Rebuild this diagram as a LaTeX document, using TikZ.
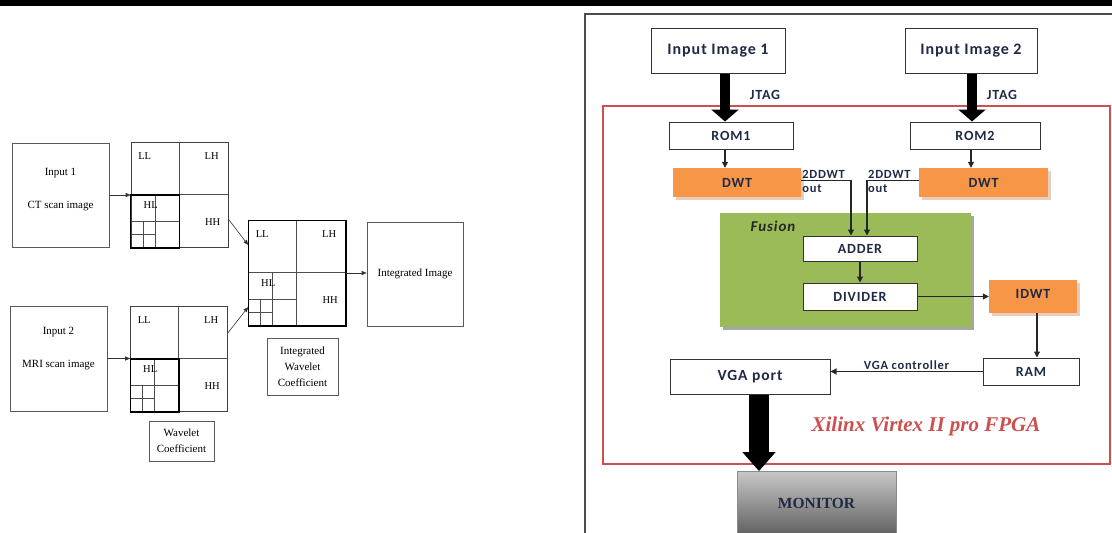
\documentclass[tikz,border=0pt]{standalone}
\usepackage{fontspec}
\setmainfont{Liberation Serif}
\newfontfamily\carlito[LetterSpace=6]{Carlito}
\usepackage{xcolor}
\usepackage{tikz}
\usetikzlibrary{arrows.meta,positioning,calc,shadows}
\definecolor{fpgared}{HTML}{CC5050}
\definecolor{dwtorange}{HTML}{F79646}
\definecolor{dwtshade}{HTML}{E8CDBE}
\definecolor{fusgreen}{HTML}{9BBB59}
\definecolor{fpgaink}{HTML}{1F2A44}

\begin{document}
\begin{tikzpicture}[
    x=1pt,y=-1pt,
    ent/.style    = {rectangle,draw=black!65,line width=0.6pt,fill=white,inner sep=0pt},
    grille/.style = {rectangle,draw=black!75,line width=0.6pt,minimum width=97pt,
                     minimum height=105pt,inner sep=0pt},
    coef/.style   = {font=\fontsize{10.5}{12}\selectfont,inner sep=0pt},
    txt/.style    = {align=center,font=\fontsize{11}{16}\selectfont,inner sep=0pt},
    fl/.style     = {-{Triangle[length=5pt,width=4pt]},line width=0.6pt,black!80},
    bloc/.style   = {rectangle,draw=black!80,line width=1pt,fill=white,inner sep=0pt,
                     font=\carlito\bfseries\fontsize{14}{16}\selectfont,text=fpgaink},
    dwt/.style    = {rectangle,fill=dwtorange,inner sep=0pt,
                     font=\carlito\bfseries\fontsize{14}{16}\selectfont,text=fpgaink,
                     drop shadow={shadow xshift=2.5pt,shadow yshift=-2.5pt,fill=dwtshade,opacity=1}},
    flh/.style    = {-{Triangle[length=6pt,width=6pt]},line width=1.1pt,black!85},
    gros/.style   = {-{Triangle[length=12pt,width=27pt]},line width=10pt,black},
    lab/.style    = {font=\carlito\bfseries\fontsize{12.5}{14}\selectfont,text=fpgaink,inner sep=1pt},
  ]
  \useasboundingbox (0,0) rectangle (1112,533);
  \fill[black] (0,0) rectangle (1112,6);

  % left: wavelet fusion scheme
  \node[ent,minimum width=97pt,minimum height=104pt] (ct)  at (60.5,195)  {};
  \node[ent,minimum width=97pt,minimum height=105pt] (mri) at (58.5,358.5) {};
  \node[txt] (ctt)  at ([yshift=5.5pt]ct.center)  {Input 1\\[17pt]CT scan image};
  \node[txt] (mrit) at ([yshift=10pt]mri.center) {Input 2\\[17pt]MRI scan image};

  \foreach \nm/\cx/\cy in {g1/179.5/195, g2/179/359, gi/297/273}{
    \node[grille] (\nm) at (\cx,\cy) {};
    \begin{scope}[shift={(\nm.north west)}]
      \draw[black!70,line width=0.5pt] (48.5,0) -- (48.5,105) (0,52.5) -- (97,52.5)
        (0,78.75) -- (48.5,78.75) (24.25,52.5) -- (24.25,105)
        (0,91.9) -- (24.25,91.9) (12.1,78.75) -- (12.1,105);
    \end{scope}
    \node[coef] (\nm-ll) at ([shift={(14,14)}]\nm.north west) {LL};
    \node[coef] (\nm-lh) at ([shift={(81,14)}]\nm.north west) {LH};
    \node[coef] (\nm-hl) at ([shift={(20,63)}]\nm.north west) {HL};
    \node[coef] (\nm-hh) at ([shift={(82,80)}]\nm.north west) {HH};
  }
  \draw[line width=1.4pt] (g1.west) rectangle (g1.south);
  \draw[line width=1.4pt] (g2.west) rectangle (g2.south);
  \draw[line width=1.4pt] (gi.north west) rectangle (gi.south east);

  \node[ent,minimum width=96pt,minimum height=104pt,txt] (integ) at (415,274) {Integrated Image};
  \node[ent,minimum width=65pt,minimum height=40pt,txt]  (wc)  at (181.5,441) {Wavelet\\Coefficient};
  \node[ent,minimum width=71pt,minimum height=57pt,txt]  (iwc) at (302.5,366.5) {Integrated\\Wavelet\\Coefficient};

  \draw[fl] (ct.east)  -- (ct.east -| g1.west);
  \draw[fl] (mri.east) -- (mri.east -| g2.west);
  \draw[fl] ([yshift=-24pt]g1.east) -- ([yshift=28pt]gi.west);
  \draw[fl] ([yshift=26pt]g2.east)  -- ([yshift=-34pt]gi.west);
  \draw[fl] (gi.east) -- (gi.east -| integ.west);

  % right: FPGA architecture
  \draw[line width=2.5pt,black!70] (585,533) -- (585,14) -- (1112,14);
  \node[draw=fpgared,line width=1.8pt,minimum width=507pt,minimum height=358pt,inner sep=0pt] (fpga) at (856.5,285) {};
  \node[fill=fusgreen,minimum width=251pt,minimum height=114pt,inner sep=0pt,
        drop shadow={shadow xshift=3pt,shadow yshift=-3pt,fill=black!35,opacity=1}] (fusion) at (845.5,270) {};
  \node[font=\carlito\bfseries\itshape\fontsize{15}{17}\selectfont,text=black!85] (fust) at (773,226) {Fusion};

  \node[bloc,minimum width=134pt,minimum height=45pt,font=\carlito\bfseries\fontsize{16}{18}\selectfont] (in1) at (718,50.5) {Input Image 1};
  \node[bloc,minimum width=132pt,minimum height=45pt,font=\carlito\bfseries\fontsize{16}{18}\selectfont] (in2) at (971,50.5) {Input Image 2};
  \node[bloc,minimum width=124pt,minimum height=27pt] (rom1) at (731,135.5) {ROM1};
  \node[bloc,minimum width=130pt,minimum height=27pt] (rom2) at (975,135.5) {ROM2};
  \node[dwt,minimum width=128pt,minimum height=29pt] (dwt1) at (737,182.5) {DWT};
  \node[dwt,minimum width=129pt,minimum height=29pt] (dwt2) at (983.5,182.5) {DWT};
  \node[bloc,minimum width=114pt,minimum height=25pt] (adder)   at (860,248.5) {ADDER};
  \node[bloc,minimum width=114pt,minimum height=27pt] (divider) at (860,296.5) {DIVIDER};
  \node[dwt,minimum width=88pt,minimum height=33pt,text depth=6pt] (idwt) at (1033,296.5) {IDWT};
  \node[bloc,minimum width=96pt,minimum height=27pt] (ram) at (1031,371.5) {RAM};
  \node[bloc,minimum width=160pt,minimum height=35pt,font=\carlito\bfseries\fontsize{15.5}{17}\selectfont] (vga) at (750,376.5) {VGA port};
  \node[rectangle,draw=black!45,line width=0.8pt,minimum width=159pt,minimum height=63pt,inner sep=0pt,
        top color=black!22,bottom color=black!62,font=\bfseries\fontsize{15.5}{17}\selectfont,text=fpgaink] (monitor) at (816.5,503) {MONITOR};
  \node[font=\bfseries\itshape\fontsize{21}{23}\selectfont,text=fpgared] (xil) at (926,426) {Xilinx Virtex II pro FPGA};

  \draw[gros] ([xshift=7pt]in1.south) -- ([xshift=7pt]in1.south |- rom1.north);
  \draw[gros] ([xshift=1pt]in2.south) -- ([xshift=1pt]in2.south |- rom2.north);
  \node[lab,font=\carlito\bfseries\fontsize{14}{16}\selectfont] (jt1) at (765,95) {JTAG};
  \node[lab,font=\carlito\bfseries\fontsize{14}{16}\selectfont] (jt2) at (1002,95) {JTAG};

  \draw[flh] ([xshift=-6pt]rom1.south) -- ([xshift=-6pt]rom1.south |- dwt1.north);
  \draw[flh] ([xshift=-4pt]rom2.south) -- ([xshift=-4pt]rom2.south |- dwt2.north);

  \coordinate (k1) at ([xshift=-9pt,yshift=2pt]adder.north |- dwt1.east);
  \coordinate (k2) at ([xshift=7pt,yshift=2pt]adder.north |- dwt2.west);
  \draw[flh] ([yshift=2pt]dwt1.east) -- (k1) -- ([xshift=-9pt]adder.north);
  \draw[flh] ([yshift=2pt]dwt2.west) -- (k2) -- ([xshift=7pt]adder.north);
  \node[lab,anchor=south west,yshift=1pt]  (o1a) at ([yshift=2pt]dwt1.east) {2DDWT};
  \node[lab,anchor=north west,yshift=-3pt] (o1b) at ([yshift=2pt]dwt1.east) {out};
  \node[lab,anchor=south west,yshift=1pt]  (o2a) at (k2) {2DDWT};
  \node[lab,anchor=north west,yshift=-3pt] (o2b) at (k2) {out};

  \draw[flh] (adder) -- (divider);
  \draw[flh] (divider.east) -- (divider.east -| idwt.west);
  \draw[flh] ([xshift=4pt]idwt.south) -- ([xshift=4pt]idwt.south |- ram.north);
  \draw[flh] (ram.west) -- node[lab,above] (vgac) {VGA controller} (ram.west -| vga.east);
  \draw[gros,line width=20pt,-{Triangle[length=19pt,width=32pt]}] ([xshift=9pt]vga.south) -- ([xshift=9pt]vga.south |- monitor.north);

\end{tikzpicture}
\end{document}
